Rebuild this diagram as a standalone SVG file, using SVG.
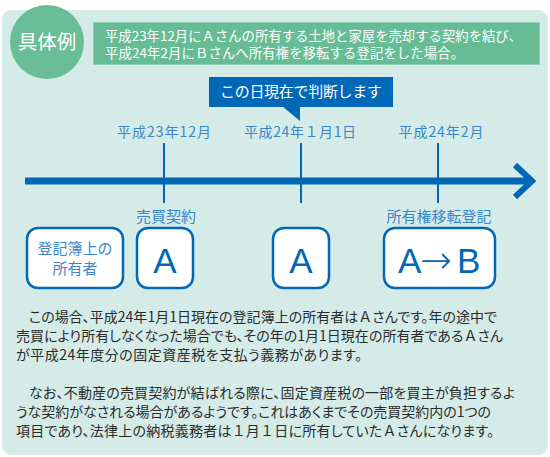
<svg xmlns="http://www.w3.org/2000/svg" width="550" height="457" viewBox="0 0 550 457">
<style>
.jp{font-family:"Noto Sans CJK JP","Noto Sans",sans-serif}
.hdr{font-size:13.3px;fill:#ffffff}
.tl{font-size:14px;fill:#3a86c8}
.lb{font-size:15px;fill:#3a86c8}
.body{font-size:14px;fill:#2b2b2b;font-feature-settings:"palt"}
.fw{font-feature-settings:normal}
.box{fill:#ffffff;stroke:#0068b7;stroke-width:2.5}
.big{font-family:"Liberation Sans",Arial,sans-serif;font-size:35px;fill:#0068b7}
.tick{stroke:#0068b7;stroke-width:2}
</style>
<rect x="2" y="10" width="546" height="445" rx="9" fill="#d4ebe8"/>
<g id="badge">
<circle cx="47" cy="42" r="37" fill="#69be97"/>
<text class="jp" x="47" y="49" font-size="19.5" fill="#ffffff" text-anchor="middle">具体例</text>
</g>
<g id="header">
<rect x="93.5" y="22.5" width="446" height="42" fill="#66bd95" stroke="#8fd1b3" stroke-width="1"/>
<text class="jp hdr" x="105" y="40.5" textLength="417" lengthAdjust="spacing">平成23年12月にＡさんの所有する土地と家屋を売却する契約を結び、</text>
<text class="jp hdr" x="105" y="58" textLength="359" lengthAdjust="spacing">平成24年2月にＢさんへ所有権を移転する登記をした場合。</text>
</g>
<g id="callout">
<rect x="209" y="77" width="184" height="30" fill="#0068b7"/>
<polygon points="282,106 300,106 300,121" fill="#0068b7"/>
<text class="jp" x="301" y="97" font-size="15" fill="#ffffff" text-anchor="middle" textLength="162" lengthAdjust="spacing">この日現在で判断します</text>
</g>
<g id="connectors">
<line x1="25" y1="181" x2="530" y2="181" stroke="#0068b7" stroke-width="7"/>
<polyline points="515,165 532,181 515,197" fill="none" stroke="#0068b7" stroke-width="6"/>
<line class="tick" x1="164" y1="143" x2="164" y2="203"/>
<line class="tick" x1="301" y1="143" x2="301" y2="203"/>
<line class="tick" x1="438" y1="143" x2="438" y2="203"/>
</g>
<g id="dates">
<text class="jp tl" x="164" y="137" text-anchor="middle" textLength="94" lengthAdjust="spacing">平成23年12月</text>
<text class="jp tl" x="300" y="137" text-anchor="middle" textLength="112" lengthAdjust="spacing">平成24年１月1日</text>
<text class="jp tl" x="441" y="137" text-anchor="middle" textLength="85" lengthAdjust="spacing">平成24年2月</text>
</g>
<g id="owner-label">
<rect class="box" x="27" y="228" width="96" height="60" rx="11"/>
<text class="jp lb" x="75" y="254" font-size="14.5" text-anchor="middle">登記簿上の</text>
<text class="jp lb" x="75" y="274" font-size="14.5" text-anchor="middle">所有者</text>
</g>
<g id="contract">
<text class="jp lb" x="166" y="222" text-anchor="middle">売買契約</text>
<rect class="box" x="137" y="228" width="56" height="60" rx="11"/>
<text class="big" x="165" y="273" text-anchor="middle">A</text>
</g>
<g id="jan1">
<rect class="box" x="273" y="228" width="56" height="60" rx="11"/>
<text class="big" x="301" y="273" text-anchor="middle">A</text>
</g>
<g id="transfer">
<text class="jp lb" x="439" y="222" text-anchor="middle">所有権移転登記</text>
<rect class="box" x="384" y="228" width="111" height="60" rx="11"/>
<text class="big" y="273"><tspan x="398">A</tspan><tspan x="420" font-family="DejaVu Sans,sans-serif" font-size="38" font-weight="200">→</tspan><tspan x="457">B</tspan></text>
</g>
<g id="explanation">
<text class="jp body" x="29" y="322" textLength="468" lengthAdjust="spacing">この場合、平成24年1月1日現在の登記簿上の所有者は<tspan class="fw">Ａ</tspan>さんです。年の途中で</text>
<text class="jp body" x="16" y="341" textLength="487" lengthAdjust="spacing">売買により所有しなくなった場合でも、その年の1月1日現在の所有者である<tspan class="fw">Ａ</tspan>さん</text>
<text class="jp body" x="16" y="360" textLength="346" lengthAdjust="spacing">が平成24年度分の固定資産税を支払う義務があります。</text>
<text class="jp body" x="29" y="398" textLength="486" lengthAdjust="spacing">なお、不動産の売買契約が結ばれる際に、固定資産税の一部を買主が負担するよ</text>
<text class="jp body" x="16" y="417" textLength="475" lengthAdjust="spacing">うな契約がなされる場合があるようです。これはあくまでその売買契約内の1つの</text>
<text class="jp body" x="16" y="436" textLength="478" lengthAdjust="spacing">項目であり、法律上の納税義務者は<tspan class="fw">１</tspan>月<tspan class="fw">１</tspan>日に所有していた<tspan class="fw">Ａ</tspan>さんになります。</text>
</g>
</svg>
